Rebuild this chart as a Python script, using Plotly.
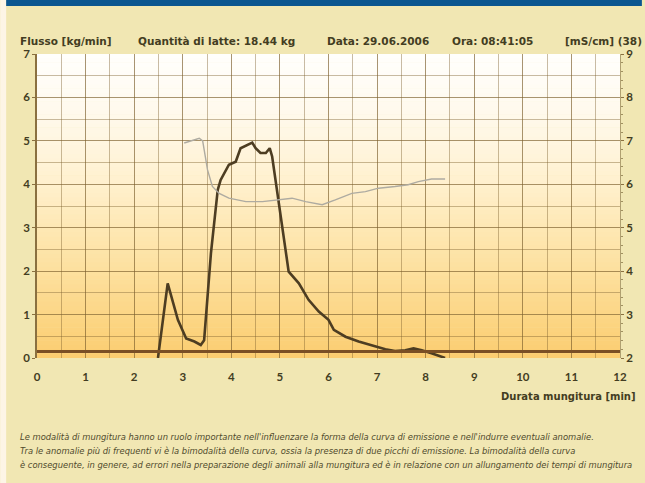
import plotly.graph_objects as go
import numpy as np

# ---- data ----
flow_t = [2.49, 2.69, 2.90, 3.07, 3.24, 3.37, 3.44, 3.58, 3.72, 3.78, 3.95, 4.09, 4.19, 4.33,
          4.43, 4.50, 4.60, 4.71, 4.79, 4.84, 4.98, 5.12, 5.18, 5.39, 5.59, 5.80, 6.00, 6.11,
          6.35, 6.62, 6.89, 7.17, 7.37, 7.58, 7.75, 7.92, 8.12, 8.33, 8.40]
flow_v = [0.00, 1.72, 0.88, 0.45, 0.38, 0.30, 0.41, 2.41, 3.87, 4.10, 4.45, 4.52, 4.83, 4.91,
          4.96, 4.83, 4.72, 4.72, 4.83, 4.64, 3.56, 2.41, 1.99, 1.72, 1.34, 1.07, 0.88, 0.65,
          0.49, 0.38, 0.30, 0.20, 0.16, 0.18, 0.22, 0.18, 0.11, 0.03, 0.00]
cond_t = [3.03, 3.34, 3.41, 3.51, 3.61, 3.75, 3.95, 4.30, 4.64, 4.98, 5.25, 5.53, 5.87, 6.14,
          6.48, 6.76, 7.03, 7.37, 7.64, 7.85, 8.12, 8.40]
cond_v = [6.95, 7.06, 7.00, 6.33, 5.95, 5.79, 5.68, 5.60, 5.60, 5.64, 5.68, 5.60, 5.53, 5.64,
          5.79, 5.83, 5.91, 5.95, 5.99, 6.06, 6.12, 6.12]
threshold = 0.15
x_ticks = list(range(0, 13))
y_ticks = list(range(0, 8))
y2_ticks = list(range(2, 10))

header_items = [("Flusso [kg/min]", 18), ("Quantità di latte: 18.44 kg", 137),
                ("Data: 29.06.2006", 326), ("Ora: 08:41:05", 452), ("[mS/cm] (38)", 566)]
footnote = [
    "Le modalità di mungitura hanno un ruolo importante nell'influenzare la forma della curva di emissione e nell'indurre eventuali anomalie.",
    "Tra le anomalie più di frequenti vi è la bimodalità della curva, ossia la presenza di due picchi di emissione. La bimodalità della curva",
    "è conseguente, in genere, ad errori nella preparazione degli animali alla mungitura ed è in relazione con un allungamento dei tempi di mungitura",
]

# ---- geometry ----
W, H = 645, 483
L, R, T, B = 37, 623, 54, 358
pw, ph = R - L, B - T
def px(x):
    return (x - L) / pw
def py(y):
    return (B - y) / ph

PANEL = "#f1e7b3"
TXT = "#433d22"
FONT = "Lato"
HFONT = "DejaVu Sans"
GRID = "rgba(125,95,45,0.42)"

fig = go.Figure()

fig.add_trace(go.Scatter(x=cond_t, y=cond_v, yaxis="y2", mode="lines",
                         line=dict(color="#aeaba1", width=1.4), hoverinfo="skip"))
fig.add_trace(go.Scatter(x=flow_t, y=flow_v, mode="lines",
                         line=dict(color="#4d3d22", width=2.6), hoverinfo="skip"))

shapes = []
# gradient background bands (below gridlines)
stops = [(0.0, (251, 205, 112)), (1.0, (252, 214, 134)), (2.0, (253, 224, 158)),
         (3.0, (254, 232, 180)), (4.0, (255, 240, 205)), (5.0, (255, 246, 225)),
         (6.0, (255, 251, 242)), (7.0, (255, 255, 252))]
n = 70
for i in range(n):
    y0 = 7 * i / n
    y1 = 7 * (i + 1) / n
    ym = (y0 + y1) / 2
    for j in range(len(stops) - 1):
        if stops[j][0] <= ym <= stops[j + 1][0]:
            f = (ym - stops[j][0]) / (stops[j + 1][0] - stops[j][0])
            c = [int(round(stops[j][1][k] + f * (stops[j + 1][1][k] - stops[j][1][k]))) for k in range(3)]
            break
    shapes.append(dict(type="rect", xref="x", yref="y", x0=0, x1=12, y0=y0, y1=y1 + 0.01,
                       fillcolor=f"rgb({c[0]},{c[1]},{c[2]})", line=dict(width=0), layer="below"))
# threshold line
shapes.append(dict(type="line", xref="x", yref="y", x0=0, x1=12, y0=threshold, y1=threshold,
                   line=dict(color="#7a4f25", width=3), layer="above"))
# left strip & top blue bar
shapes.append(dict(type="rect", xref="paper", yref="paper", x0=px(0), x1=px(6), y0=py(H), y1=py(0),
                   fillcolor="#fdf5e6", line=dict(width=0), layer="below"))
shapes.append(dict(type="rect", xref="paper", yref="paper", x0=px(6), x1=px(W), y0=py(6), y1=py(0),
                   fillcolor="#0b5690", line=dict(width=0), layer="below"))

annotations = []
for text, x0 in header_items:
    annotations.append(dict(text=f"<b>{text}</b>", xref="paper", yref="paper", x=px(x0), y=py(41),
                            xanchor="left", yanchor="middle", showarrow=False,
                            font=dict(family=HFONT, size=10.5, color=TXT)))
annotations.append(dict(text="<b>Durata mungitura [min]</b>", xref="paper", yref="paper",
                        x=px(641), y=py(396), xanchor="right", yanchor="middle", showarrow=False,
                        font=dict(family=HFONT, size=10, color=TXT)))
for k, line in enumerate(footnote):
    annotations.append(dict(text=f"<i>{line}</i>", xref="paper", yref="paper", x=px(18),
                            y=py(437 + 14 * k), xanchor="left", yanchor="middle", showarrow=False,
                            font=dict(family=HFONT, size=8.4, color="#4f4a2c")))

axis_font = dict(family=FONT, size=11.5, color=TXT)
fig.update_layout(
    width=W, height=H,
    margin=dict(l=L, r=W - R, t=T, b=H - B, pad=0),
    paper_bgcolor=PANEL, plot_bgcolor="rgba(0,0,0,0)",
    showlegend=False,
    shapes=shapes, annotations=annotations,
    xaxis=dict(range=[0, 12], tickvals=x_ticks, ticktext=[f"<b>{v}</b>" for v in x_ticks],
               tickfont=axis_font, showgrid=True, gridcolor=GRID, gridwidth=1,
               minor=dict(dtick=0.5, showgrid=True, gridcolor=GRID, gridwidth=1),
               zeroline=False, showline=False, ticks="", ticklabelstandoff=10,
               fixedrange=True),
    yaxis=dict(range=[0, 7], tickvals=y_ticks, ticktext=[f"<b>{v}</b>" for v in y_ticks],
               tickfont=axis_font, showgrid=True, gridcolor=GRID, gridwidth=1,
               minor=dict(dtick=0.5, showgrid=True, gridcolor=GRID, gridwidth=1),
               zeroline=False, showline=True, linecolor="#8a7040", linewidth=1.5,
               ticks="outside", ticklen=3, tickcolor="#8a7040", fixedrange=True),
    yaxis2=dict(range=[2, 9], overlaying="y", side="right", tickvals=y2_ticks,
                ticktext=[f"<b>{v}</b>" for v in y2_ticks], tickfont=axis_font,
                showgrid=False, zeroline=False, showline=True, linecolor="#b0a070", linewidth=1,
                ticks="outside", ticklen=3, tickcolor="#8a7040",
                minor=dict(dtick=0.2, ticks="outside", ticklen=2, tickcolor="#a09060"),
                fixedrange=True),
)

fig.write_html("out.html", config={"displayModeBar": False},
               post_script="document.body.style.margin='0';document.body.style.padding='0';")
